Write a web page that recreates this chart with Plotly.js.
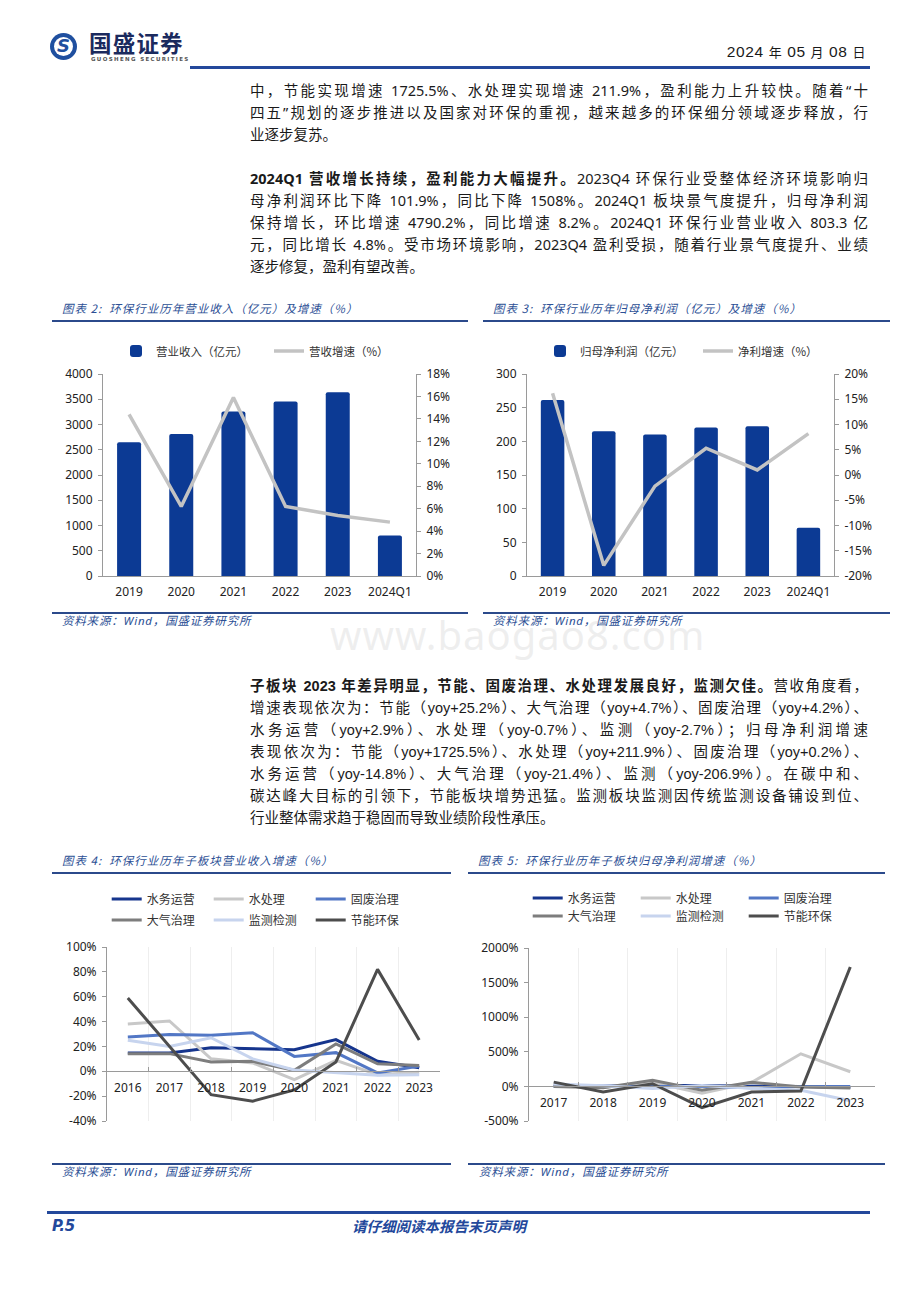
<!DOCTYPE html>
<html lang="zh-CN">
<head>
<meta charset="utf-8">
<script src="https://cdn.plot.ly/plotly-3.0.1.min.js"></script>
<style>
html,body{margin:0;padding:0;background:#fff;}
body{width:920px;height:1302px;position:relative;overflow:hidden;font-family:"Noto Sans","Noto Sans CJK SC",sans-serif;color:#1a1a1a;}
.abs{position:absolute;}
.para{position:absolute;left:250px;width:618px;font-size:14.5px;line-height:22px;}
.para .ln{text-align:justify;text-align-last:justify;white-space:nowrap;height:22px;}
.para .last{text-align:left;text-align-last:left;}
.para b{font-weight:700;}
.p3{font-family:"Liberation Sans","Noto Sans CJK SC",sans-serif;}
.ctitle{position:absolute;font-family:"Noto Sans CJK SC",sans-serif;font-style:italic;font-size:11.5px;color:#2c4f95;letter-spacing:1px;line-height:16px;white-space:nowrap;}
.rule{position:absolute;height:2px;background:#2b4a8b;}
.src{position:absolute;font-family:"Noto Sans","Noto Sans CJK SC",sans-serif;font-style:italic;font-size:11.5px;color:#2c4f95;letter-spacing:0.8px;line-height:16px;white-space:nowrap;}
</style>
</head>
<body>
<script>
// ---------------- DATA ----------------
const years2 = ['2019', '2020', '2021', '2022', '2023', '2024Q1'];
const revenue = [2650, 2810, 3258, 3455, 3640, 803.3];          // 营业收入（亿元）
const revenueGrowth = [14.4, 6.2, 15.9, 6.2, 5.4, 4.8];         // 营收增速（%）
const profit = [261.5, 215, 210, 220.5, 222.5, 71.5];           // 归母净利润（亿元）
const profitGrowth = [16.2, -17.9, -2.2, 5.3, 1.0, 8.2];        // 净利增速（%）

const seriesNames = ['水务运营', '水处理', '固废治理', '大气治理', '监测检测', '节能环保'];

const years4 = ['2016', '2017', '2018', '2019', '2020', '2021', '2022', '2023'];
const revWaterOps   = [14.7, 14.7, 19.0, 18.2, 17.4, 25.5, 8.0, 2.9];
const revWaterTreat = [38.0, 40.5, 10.0, 6.7, -6.7, 8.8, -2.7, -0.7];
const revSolidWaste = [27.6, 29.5, 29.0, 31.0, 12.0, 15.0, -1.3, 4.2];
const revAir        = [14.2, 14.2, 7.5, 8.0, 0.8, 22.0, 6.0, 4.7];
const revMonitor    = [25.0, 20.0, 27.0, 10.0, 1.0, -1.0, -3.2, -2.7];
const revEnergy     = [59.0, 20.0, -18.8, -24.0, -15.0, 7.5, 82.0, 25.2];

const years5 = ['2017', '2018', '2019', '2020', '2021', '2022', '2023'];
const npWaterOps   = [5, 3, 15, 12, 8, 0, -14.8];
const npWaterTreat = [25, -15, 55, -100, 55, 471, 211.9];
const npSolidWaste = [3, 2, 10, 0, -18, 0, 0.2];
const npAir        = [0, -18, 88, -55, 60, -10, -21.4];
const npMonitor    = [35, 8, -30, 12, -28, -55, -206.9];
const npEnergy     = [62, -82, 38, -308, -82, -67, 1725.5];

// tick labels
const revTickVals = [0, 500, 1000, 1500, 2000, 2500, 3000, 3500, 4000];
const revGrowthTickVals = [0, 2, 4, 6, 8, 10, 12, 14, 16, 18];
const revGrowthTickText = ['0%', '2%', '4%', '6%', '8%', '10%', '12%', '14%', '16%', '18%'];
const profitTickVals = [0, 50, 100, 150, 200, 250, 300];
const profitGrowthTickVals = [-20, -15, -10, -5, 0, 5, 10, 15, 20];
const profitGrowthTickText = ['-20%', '-15%', '-10%', '-5%', '0%', '5%', '10%', '15%', '20%'];
const seg4TickVals = [-40, -20, 0, 20, 40, 60, 80, 100];
const seg4TickText = ['-40%', '-20%', '0%', '20%', '40%', '60%', '80%', '100%'];
const seg5TickVals = [-500, 0, 500, 1000, 1500, 2000];
const seg5TickText = ['-500%', '0%', '500%', '1000%', '1500%', '2000%'];

// ---------------- STYLE ----------------
const FONT = 'Noto Sans, Noto Sans CJK SC, sans-serif';
const CJK = 'Noto Sans CJK SC, sans-serif';
const AX = '#9a9a9a';
const BAR = '#0c3a94';
const GREYLINE = '#c3c3c3';
const segColors = ['#16358d', '#c8c8c8', '#5277c5', '#7d7d7d', '#c7d4ee', '#4d4d4d'];
</script>

<!-- header -->
<div class="abs" style="left:50px;top:33px;width:27px;height:27px;border-radius:50%;background:#1f4f9f;"></div>
<div class="abs" style="left:54px;top:37px;width:19px;height:19px;border-radius:50%;background:#fff;"></div>
<div class="abs" style="left:56px;top:34px;width:15px;text-align:center;font:italic 900 18px/24px 'DejaVu Sans',sans-serif;color:#1f4f9f;">S</div>
<div class="abs" style="left:89px;top:28px;font:700 22.5px/28px 'Noto Sans CJK SC',sans-serif;color:#1b2a5e;letter-spacing:1.2px;white-space:nowrap;">国盛证券</div>
<div class="abs" style="left:91px;top:56px;font:600 5.5px/7px 'DejaVu Sans',sans-serif;color:#555;letter-spacing:1.35px;white-space:nowrap;">GUOSHENG SECURITIES</div>
<div class="abs" style="right:54px;top:41px;font:400 15.5px/22px 'Liberation Sans','Noto Sans CJK SC',sans-serif;color:#1a1a1a;white-space:nowrap;letter-spacing:0.6px;">2024 <span style="font-size:13px">年</span> 05 <span style="font-size:13px">月</span> 08 <span style="font-size:13px">日</span></div>
<div class="abs" style="left:190px;top:66px;width:680px;height:3px;background:#23489b;"></div>

<!-- paragraph 1 -->
<div class="para" style="top:79px;">
  <div class="ln">中，节能实现增速 1725.5%、水处理实现增速 211.9%，盈利能力上升较快。随着“十</div>
  <div class="ln">四五”规划的逐步推进以及国家对环保的重视，越来越多的环保细分领域逐步释放，行</div>
  <div class="ln last">业逐步复苏。</div>
</div>

<!-- paragraph 2 -->
<div class="para" style="top:167px;">
  <div class="ln"><b>2024Q1 营收增长持续，盈利能力大幅提升。</b>2023Q4 环保行业受整体经济环境影响归</div>
  <div class="ln">母净利润环比下降 101.9%，同比下降 1508%。2024Q1 板块景气度提升，归母净利润</div>
  <div class="ln">保持增长，环比增速 4790.2%，同比增速 8.2%。2024Q1 环保行业营业收入 803.3 亿</div>
  <div class="ln">元，同比增长 4.8%。受市场环境影响，2023Q4 盈利受损，随着行业景气度提升、业绩</div>
  <div class="ln last">逐步修复，盈利有望改善。</div>
</div>

<!-- chart 2 / 3 frames -->
<div class="ctitle" style="left:62px;top:300px;">图表 2:&nbsp; 环保行业历年营业收入（亿元）及增速（%）</div>
<div class="rule" style="left:52px;top:320px;width:416px;"></div>
<div class="ctitle" style="left:493px;top:300px;">图表 3:&nbsp; 环保行业历年归母净利润（亿元）及增速（%）</div>
<div class="rule" style="left:483px;top:320px;width:407px;"></div>
<div class="rule" style="left:52px;top:612px;width:416px;"></div>
<div class="rule" style="left:483px;top:612px;width:407px;"></div>
<div class="src" style="left:62px;top:613px;">资料来源：Wind，国盛证券研究所</div>
<div class="src" style="left:493px;top:613px;">资料来源：Wind，国盛证券研究所</div>

<!-- watermark -->
<div class="abs" style="left:330px;top:610px;font:400 40px/50px 'Noto Sans',sans-serif;color:rgba(190,190,190,0.25);white-space:nowrap;letter-spacing:1px;">www.baogao8.com</div>

<!-- paragraph 3 -->
<div class="para p3" style="top:675px;">
  <div class="ln"><b>子板块 2023 年差异明显，节能、固废治理、水处理发展良好，监测欠佳。</b>营收角度看，</div>
  <div class="ln">增速表现依次为：节能（yoy+25.2%）、大气治理（yoy+4.7%）、固废治理（yoy+4.2%）、</div>
  <div class="ln">水务运营（yoy+2.9%）、水处理（yoy-0.7%）、监测（yoy-2.7%）；归母净利润增速</div>
  <div class="ln">表现依次为：节能（yoy+1725.5%）、水处理（yoy+211.9%）、固废治理（yoy+0.2%）、</div>
  <div class="ln">水务运营（yoy-14.8%）、大气治理（yoy-21.4%）、监测（yoy-206.9%）。在碳中和、</div>
  <div class="ln">碳达峰大目标的引领下，节能板块增势迅猛。监测板块监测因传统监测设备铺设到位、</div>
  <div class="ln last">行业整体需求趋于稳固而导致业绩阶段性承压。</div>
</div>

<!-- chart 4 / 5 frames -->
<div class="ctitle" style="left:62px;top:852px;">图表 4:&nbsp; 环保行业历年子板块营业收入增速（%）</div>
<div class="rule" style="left:52px;top:872px;width:399px;"></div>
<div class="ctitle" style="left:478px;top:852px;">图表 5:&nbsp; 环保行业历年子板块归母净利润增速（%）</div>
<div class="rule" style="left:468px;top:872px;width:417px;"></div>
<div class="rule" style="left:52px;top:1163px;width:399px;"></div>
<div class="rule" style="left:468px;top:1163px;width:417px;"></div>
<div class="src" style="left:62px;top:1164px;">资料来源：Wind，国盛证券研究所</div>
<div class="src" style="left:479px;top:1164px;">资料来源：Wind，国盛证券研究所</div>

<!-- footer -->
<div class="abs" style="left:47px;top:1211px;width:823px;height:3px;background:#23489b;"></div>
<div class="abs" style="left:52px;top:1216px;font:italic 700 15px/20px 'DejaVu Sans',sans-serif;color:#23489b;">P.5</div>
<div class="abs" style="left:352px;top:1216px;font:italic 700 14.5px/20px 'Noto Sans CJK SC',sans-serif;color:#23489b;white-space:nowrap;">请仔细阅读本报告末页声明</div>

<script>
// ---------------- CHARTS ----------------
const C2 = {left: 52, top: 330, w: 416, h: 278, l: 51, r: 52, t: 44, b: 32};
const C3 = {left: 483, top: 330, w: 407, h: 278, l: 44, r: 56, t: 44, b: 32};
const C4 = {left: 52, top: 880, w: 400, h: 272, l: 55, r: 12, t: 67, b: 31};
const C5 = {left: 468, top: 880, w: 417, h: 272, l: 61, r: 10, t: 68, b: 31};

const px = (c, X) => (X - c.left - c.l) / (c.w - c.l - c.r);
const py = (c, Y) => (c.top + c.h - c.b - Y) / (c.h - c.t - c.b);

function mk(c, traces, lay) {
  const div = document.createElement('div');
  div.style.cssText = 'position:absolute;left:' + c.left + 'px;top:' + c.top + 'px;width:' + c.w + 'px;height:' + c.h + 'px;';
  document.body.appendChild(div);
  const base = {
    width: c.w, height: c.h,
    margin: {l: c.l, r: c.r, t: c.t, b: c.b, pad: 0, autoexpand: false},
    paper_bgcolor: 'rgba(0,0,0,0)', plot_bgcolor: 'rgba(0,0,0,0)',
    font: {family: FONT, size: 12, color: '#222'},
    showlegend: true
  };
  Plotly.newPlot(div, traces, Object.assign(base, lay), {displayModeBar: false, staticPlot: true});
}

function yAx(extra) {
  return Object.assign({
    showline: true, linecolor: AX, linewidth: 1, ticks: 'outside', ticklen: 4, tickcolor: AX,
    showgrid: false, zeroline: false, tickfont: {size: 12, color: '#222'}, ticklabelstandoff: 3
  }, extra);
}

function legAt(c, X, Y, ew, size) {
  return {orientation: 'h', x: px(c, X), xanchor: 'left', y: py(c, Y), yanchor: 'middle',
    entrywidth: ew, font: {size: size, family: CJK, color: '#333'}, bgcolor: 'rgba(0,0,0,0)'};
}

function barLineChart(c, cats, bars, line, names, yCfg, y2Cfg, legX1, legX2, legY) {
  mk(c, [
    {type: 'bar', x: cats, y: bars, width: 0.46, marker: {color: BAR, cornerradius: 2}, name: names[0], legend: 'legend'},
    {type: 'scatter', mode: 'lines', x: cats, y: line, yaxis: 'y2', line: {color: GREYLINE, width: 3.5}, name: names[1], legend: 'legend2'}
  ], {
    xaxis: {type: 'category', showline: true, linecolor: AX, ticks: '', tickfont: {size: 12, color: '#222'}, ticklabelstandoff: 5},
    yaxis: yAx(yCfg),
    yaxis2: yAx(Object.assign({overlaying: 'y', side: 'right'}, y2Cfg)),
    legend: legAt(c, legX1, legY, 110, 11.5),
    legend2: legAt(c, legX2, legY, 90, 11.5)
  });
}

// Chart 2
barLineChart(C2, years2, revenue, revenueGrowth, ['营业收入（亿元）', '营收增速（%）'],
  {range: [0, 4000], tickvals: revTickVals},
  {range: [0, 18], tickvals: revGrowthTickVals, ticktext: revGrowthTickText},
  116, 269, 351);

// Chart 3
barLineChart(C3, years2, profit, profitGrowth, ['归母净利润（亿元）', '净利增速（%）'],
  {range: [0, 300], tickvals: profitTickVals},
  {range: [-20, 20], tickvals: profitGrowthTickVals, ticktext: profitGrowthTickText},
  540, 698, 351);

function segTraces(xs, arrs) {
  return arrs.map((arr, i) => ({
    type: 'scatter', mode: 'lines', x: xs, y: arr, name: seriesNames[i],
    line: {color: segColors[i], width: 3}, legend: i < 3 ? 'legend' : 'legend2'
  }));
}

function segLayout(c, n, yr, tv, tt, row1, row2, itemStart, ew) {
  return {
    xaxis: {type: 'category', range: [-0.5, n - 0.5], anchor: 'free', position: (0 - yr[0]) / (yr[1] - yr[0]),
      showline: true, linecolor: AX, ticks: 'inside', ticklen: 4, tickcolor: AX, tickson: 'boundaries',
      tickfont: {size: 12, color: '#222'}, ticklabelstandoff: 5},
    yaxis: yAx({range: yr, tickvals: tv, ticktext: tt}),
    legend: legAt(c, itemStart, row1, ew, 12),
    legend2: legAt(c, itemStart, row2, ew, 12)
  };
}

// Chart 4
mk(C4, segTraces(years4, [revWaterOps, revWaterTreat, revSolidWaste, revAir, revMonitor, revEnergy]),
  segLayout(C4, years4.length, [-40, 100], seg4TickVals, seg4TickText, 899, 920, 106.7, 57));

// Chart 5
mk(C5, segTraces(years5, [npWaterOps, npWaterTreat, npSolidWaste, npAir, npMonitor, npEnergy]),
  segLayout(C5, years5.length, [-500, 2000], seg5TickVals, seg5TickText, 898, 916, 527.7, 63));
</script>
</body>
</html>
